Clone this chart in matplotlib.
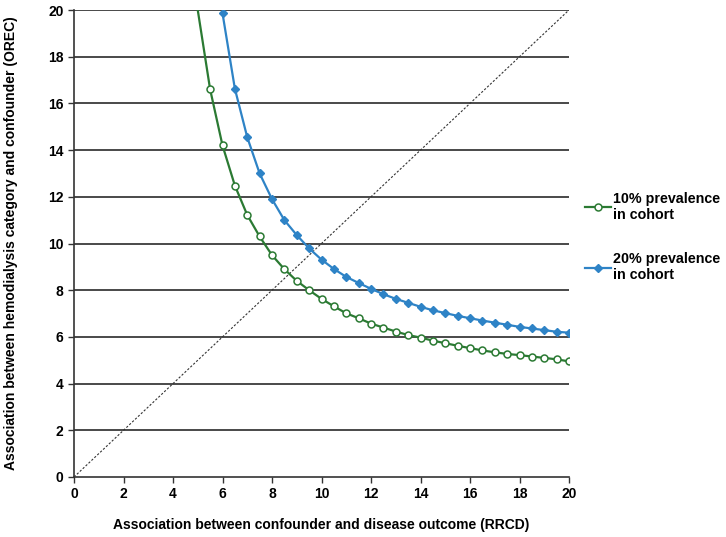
import matplotlib.pyplot as plt
import numpy as np

plt.rcParams['font.family'] = ['Liberation Sans', 'DejaVu Sans']
plt.rcParams['font.weight'] = 'bold'

# RRCD values (x) and OREC values (y)
x_10 = [5.0, 5.5, 6.0, 6.5, 7.0, 7.5, 8.0, 8.5, 9.0, 9.5, 10.0, 10.5, 11.0, 11.5, 12.0,
        12.5, 13.0, 13.5, 14.0, 14.5, 15.0, 15.5, 16.0, 16.5, 17.0, 17.5, 18.0, 18.5,
        19.0, 19.5, 20.0]
y_10 = [20.0, 16.6, 14.2, 12.48, 11.22, 10.3, 9.5, 8.9, 8.4, 8.0, 7.63, 7.31, 7.01, 6.8,
        6.57, 6.4, 6.23, 6.08, 5.97, 5.84, 5.73, 5.62, 5.52, 5.42, 5.34, 5.27, 5.22,
        5.16, 5.1, 5.04, 4.95]

x_20 = [6.0, 6.5, 7.0, 7.5, 8.0, 8.5, 9.0, 9.5, 10.0, 10.5, 11.0, 11.5, 12.0, 12.5,
        13.0, 13.5, 14.0, 14.5, 15.0, 15.5, 16.0, 16.5, 17.0, 17.5, 18.0, 18.5, 19.0,
        19.5, 20.0]
y_20 = [19.86, 16.63, 14.55, 13.0, 11.9, 11.0, 10.36, 9.79, 9.31, 8.91, 8.57, 8.31, 8.06,
        7.83, 7.63, 7.46, 7.29, 7.14, 7.02, 6.9, 6.8, 6.7, 6.61, 6.52, 6.43, 6.36, 6.29,
        6.22, 6.18]

labels = ['10% prevalence\nin cohort', '20% prevalence\nin cohort']
green = '#2b7a33'
blue = '#2e83c6'

fig = plt.figure(figsize=(7.26, 5.37), dpi=100)
ax = fig.add_axes([74/726, 1-477/537, 495/726, 467/537])

ax.set_xlim(0, 20)
ax.set_ylim(0, 20)

for yy in range(2, 21, 2):
    ax.axhline(yy, color='#3a3a3a', lw=1.3, zorder=1)

ax.plot([0, 20], [0, 20], color='#333333', lw=0.8, ls=(0, (2, 1.6)), zorder=2)

ax.plot(x_10, y_10, color=green, lw=1.6, marker='o', markersize=5,
        markerfacecolor='white', markeredgecolor=green, markeredgewidth=1.1,
        markevery=list(range(1, len(x_10))), label=labels[0], zorder=3)
ax.plot(x_20, y_20, color=blue, lw=1.6, marker='D', markersize=4.5,
        markerfacecolor=blue, markeredgecolor=blue, label=labels[1], zorder=3)

ax.set_xticks(range(0, 21, 2))
ax.set_yticks(range(0, 21, 2))
ax.tick_params(labelsize=10, length=4, width=1, direction='out', color='#333333')
for s in ['top', 'right']:
    ax.spines[s].set_visible(False)
for s in ['left', 'bottom']:
    ax.spines[s].set_linewidth(1.2)
    ax.spines[s].set_color('#333333')

ax.set_xlabel('Association between confounder and disease outcome (RRCD)',
              fontsize=10, fontweight='bold', labelpad=12)
ax.set_ylabel('Association between hemodialysis category and confounder (OREC)',
              fontsize=10, fontweight='bold', labelpad=22)

leg = ax.legend(loc='center left', bbox_to_anchor=(1.013, 0.514), frameon=False,
                fontsize=10.3, handlelength=1.8, handletextpad=0.1, labelspacing=2.1,
                borderaxespad=0.3)

fig.savefig('out.png', dpi=100)
